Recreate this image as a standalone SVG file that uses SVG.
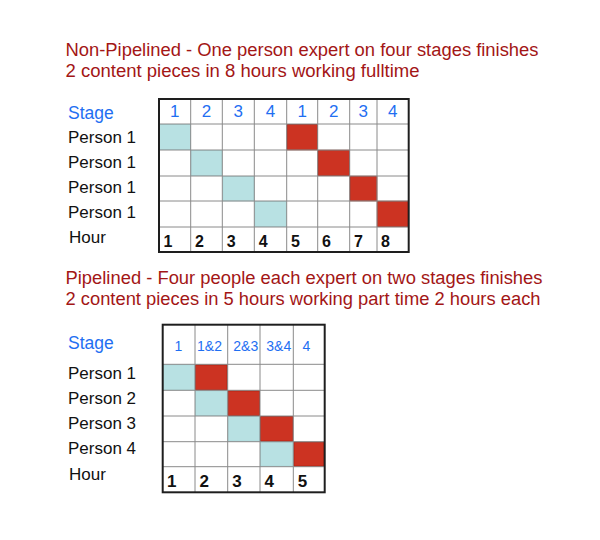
<svg xmlns="http://www.w3.org/2000/svg" width="600" height="540" viewBox="0 0 600 540">
<style>
.title{font-family:"Liberation Sans",Arial,sans-serif;font-size:18px;fill:#a31616}
.lbl{font-family:"Liberation Sans",Arial,sans-serif;font-size:17px;fill:#111}
.stage{font-family:"Liberation Sans",Arial,sans-serif;font-size:17.5px;fill:#1f6ff2}
.hd{font-family:"Liberation Sans",Arial,sans-serif;font-size:17px;fill:#1f6ff2;text-anchor:middle}
.hd2{font-family:"Liberation Sans",Arial,sans-serif;font-size:14px;fill:#1f6ff2;text-anchor:middle}
.hr{font-family:"Liberation Sans",Arial,sans-serif;font-size:16px;font-weight:bold;fill:#111}
.hr2{font-family:"Liberation Sans",Arial,sans-serif;font-size:17px;font-weight:bold;fill:#111}
.blue{fill:#b8e1e3;stroke:#a9d6d9;stroke-width:1}
.red{fill:#cc3322;stroke:#a81e10;stroke-width:1}
.grid{stroke:#8a8a8a;stroke-width:1;fill:none}
.border{stroke:#1e1e1e;stroke-width:2;fill:none}
</style>
<rect x="0" y="0" width="600" height="540" fill="#ffffff"/>

<g id="title-nonpipelined">
<text class="title" x="65.5" y="56" textLength="473" lengthAdjust="spacingAndGlyphs">Non-Pipelined - One person expert on four stages finishes</text>
<text class="title" x="65.5" y="77" textLength="354" lengthAdjust="spacingAndGlyphs">2 content pieces in 8 hours working fulltime</text>
</g>

<g id="table-nonpipelined">
<rect x="159" y="99" width="249.7" height="153" fill="#fff"/>
<rect class="blue" x="159.5" y="124.5" width="31" height="25"/>
<rect class="blue" x="191" y="150.5" width="31" height="25"/>
<rect class="blue" x="222.8" y="176.5" width="31.3" height="24.3"/>
<rect class="blue" x="254.8" y="201.5" width="31.5" height="25"/>
<rect class="red" x="287" y="124.5" width="30.5" height="25.3"/>
<rect class="red" x="318" y="150.3" width="31.5" height="25.3"/>
<rect class="red" x="350" y="176.3" width="26.8" height="24.5"/>
<rect class="red" x="377.3" y="201.3" width="31" height="25.3"/>
<path class="grid" d="M190.7 99V252M222.3 99V252M254.3 99V252M286.7 99V252M317.7 99V252M349.7 99V252M377 99V252M159 124H408.7M159 150H408.7M159 176H408.7M159 201H408.7M159 227H408.7"/>
<rect class="border" x="159" y="99" width="249.7" height="153"/>
<text class="hd" x="174.8" y="117.3">1</text>
<text class="hd" x="206.5" y="117.3">2</text>
<text class="hd" x="238.3" y="117.3">3</text>
<text class="hd" x="270.5" y="117.3">4</text>
<text class="hd" x="302.2" y="117.3">1</text>
<text class="hd" x="333.7" y="117.3">2</text>
<text class="hd" x="363.3" y="117.3">3</text>
<text class="hd" x="392.8" y="117.3">4</text>
<text class="hr" x="163.5" y="246.7">1</text>
<text class="hr" x="195" y="246.7">2</text>
<text class="hr" x="226.8" y="246.7">3</text>
<text class="hr" x="258.8" y="246.7">4</text>
<text class="hr" x="291" y="246.7">5</text>
<text class="hr" x="322" y="246.7">6</text>
<text class="hr" x="354" y="246.7">7</text>
<text class="hr" x="381" y="246.7">8</text>
</g>

<g id="labels-nonpipelined">
<text class="stage" x="68" y="119.3">Stage</text>
<text class="lbl" x="68" y="143.3">Person 1</text>
<text class="lbl" x="68" y="168.3">Person 1</text>
<text class="lbl" x="68" y="193.3">Person 1</text>
<text class="lbl" x="68" y="218.3">Person 1</text>
<text class="lbl" x="69" y="243.3">Hour</text>
</g>

<g id="title-pipelined">
<text class="title" x="65.5" y="283.7" textLength="477" lengthAdjust="spacingAndGlyphs">Pipelined - Four people each expert on two stages finishes</text>
<text class="title" x="65.5" y="304.5" textLength="475" lengthAdjust="spacingAndGlyphs">2 content pieces in 5 hours working part time 2 hours each</text>
</g>

<g id="table-pipelined">
<rect x="162.7" y="324.7" width="162" height="167.6" fill="#fff"/>
<rect class="blue" x="163.2" y="364.8" width="31.3" height="25"/>
<rect class="blue" x="195.5" y="390.8" width="31.7" height="24.7"/>
<rect class="blue" x="228.2" y="416.5" width="31.3" height="24.7"/>
<rect class="blue" x="260.5" y="442.2" width="32.3" height="24"/>
<rect class="red" x="195.5" y="364.8" width="31.7" height="25"/>
<rect class="red" x="228.2" y="390.8" width="31.3" height="24.7"/>
<rect class="red" x="260.5" y="416.5" width="32.3" height="24.7"/>
<rect class="red" x="293.8" y="442.2" width="30.4" height="24"/>
<path class="grid" d="M195 324.7V492.3M227.7 324.7V492.3M260 324.7V492.3M293.3 324.7V492.3M162.7 364.3H324.7M162.7 390.3H324.7M162.7 416H324.7M162.7 441.7H324.7M162.7 466.7H324.7"/>
<rect class="border" x="162.7" y="324.7" width="162" height="167.6"/>
<text class="hd2" x="178.5" y="350.7">1</text>
<text class="hd2" x="209.5" y="350.7">1&amp;2</text>
<text class="hd2" x="245.8" y="350.7">2&amp;3</text>
<text class="hd2" x="278.8" y="350.7">3&amp;4</text>
<text class="hd2" x="306.3" y="350.7">4</text>
<text class="hr2" x="167" y="486.7">1</text>
<text class="hr2" x="199.5" y="486.7">2</text>
<text class="hr2" x="232.3" y="486.7">3</text>
<text class="hr2" x="264.5" y="486.7">4</text>
<text class="hr2" x="297.8" y="486.7">5</text>
</g>

<g id="labels-pipelined">
<text class="stage" x="68" y="349.3">Stage</text>
<text class="lbl" x="68" y="379.3">Person 1</text>
<text class="lbl" x="68" y="404.3">Person 2</text>
<text class="lbl" x="68" y="429.3">Person 3</text>
<text class="lbl" x="68" y="454.3">Person 4</text>
<text class="lbl" x="69" y="480">Hour</text>
</g>

<g id="connectors"></g>
</svg>
